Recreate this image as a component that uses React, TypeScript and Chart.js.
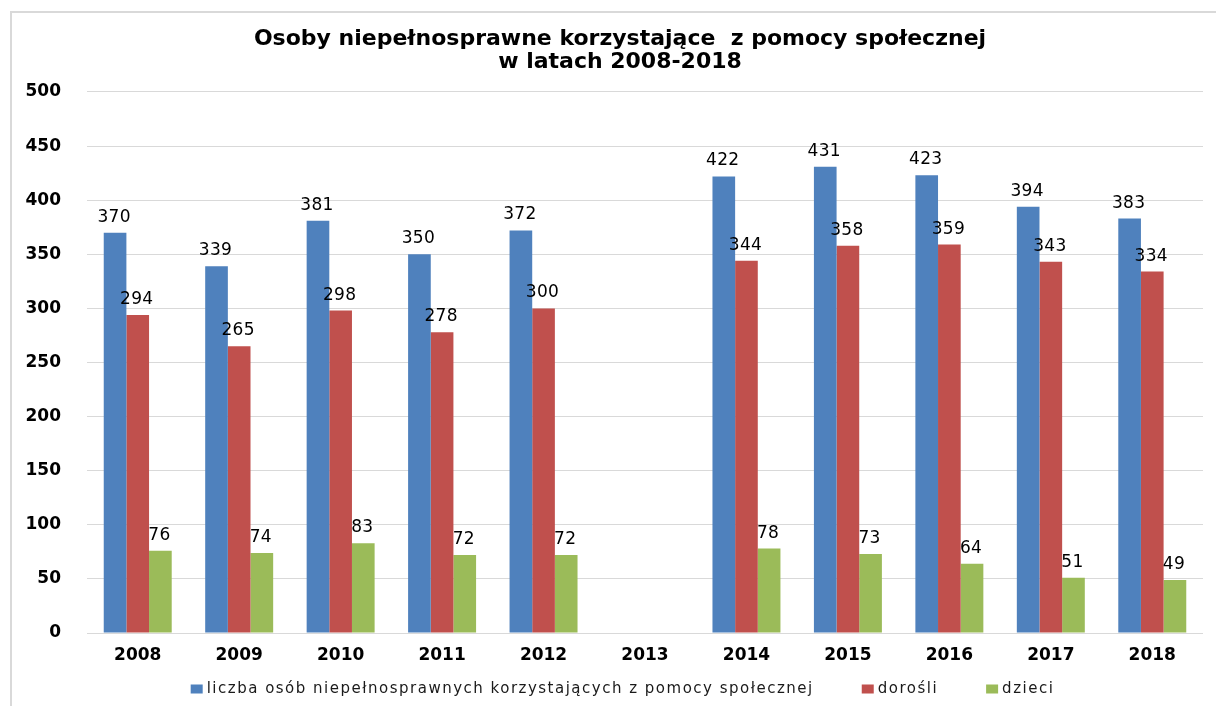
import React, { useEffect, useRef } from "react";
import { Chart, registerables } from "chart.js";

Chart.register(...registerables);

const categories = ["2008", "2009", "2010", "2011", "2012", "2013", "2014", "2015", "2016", "2017", "2018"];
const totalValues: (number | null)[] = [370, 339, 381, 350, 372, null, 422, 431, 423, 394, 383];
const adultValues: (number | null)[] = [294, 265, 298, 278, 300, null, 344, 358, 359, 343, 334];
const childValues: (number | null)[] = [76, 74, 83, 72, 72, null, 78, 73, 64, 51, 49];
const seriesLabels = [
  "liczba osób niepełnosprawnych korzystających z pomocy społecznej",
  "dorośli",
  "dzieci",
];
const titleLines = ["Osoby niepełnosprawne korzystające  z pomocy społecznej", "w latach 2008-2018"];
const yMin = 0;
const yMax = 500;
const yStep = 50;

const COLORS = ["#4F81BD", "#C0504D", "#9BBB59"];

const framePlugin = {
  id: "frame",
  afterLayout(chart: any) {
    // let the y tick labels extend left of the (narrow) axis box without clipping
    const ys = chart.scales.y;
    if (ys) ys.left = 12;
  },
  beforeDraw(chart: any) {
    const ctx = chart.ctx;
    ctx.save();
    ctx.fillStyle = "#FFFFFF";
    ctx.fillRect(0, 0, chart.width, chart.height);
    ctx.fillStyle = "#D9D9D9";
    ctx.fillRect(10, 11, 2, chart.height - 11);
    ctx.fillRect(10, 11, chart.width - 10, 2);
    ctx.restore();
  },
};

const valueLabelPlugin = {
  id: "valueLabels",
  afterDatasetsDraw(chart: any) {
    const ctx = chart.ctx;
    ctx.save();
    ctx.font = "17px 'DejaVu Sans'";
    (ctx as any).letterSpacing = "0.3px";
    ctx.fillStyle = "#000000";
    ctx.textAlign = "center";
    ctx.textBaseline = "alphabetic";
    chart.data.datasets.forEach((ds: any, di: number) => {
      const meta = chart.getDatasetMeta(di);
      meta.data.forEach((el: any, i: number) => {
        const v = ds.data[i];
        if (v === null || v === undefined) return;
        ctx.fillText(String(v), el.x - 1, el.y - 11);
      });
    });
    ctx.restore();
  },
};

const legendPlugin = {
  id: "bottomLegend",
  afterDraw(chart: any) {
    const ctx = chart.ctx;
    ctx.save();
    ctx.font = "15px 'DejaVu Sans'";
    (ctx as any).letterSpacing = "1.5px";
    ctx.textBaseline = "middle";
    ctx.textAlign = "left";
    const boxW = 12;
    const boxH = 9;
    const gapBoxText = 4;
    const gapItems = 48;
    const items = chart.data.datasets.map((ds: any) => ({
      text: ds.label,
      color: ds.backgroundColor,
      w: ctx.measureText(ds.label).width,
    }));
    let total = 0;
    items.forEach((it: any, i: number) => {
      total += boxW + gapBoxText + it.w + (i < items.length - 1 ? gapItems : 0);
    });
    const cx = (chart.width + 29) / 2;
    let x = cx - total / 2;
    const y = 689;
    items.forEach((it: any) => {
      ctx.fillStyle = it.color;
      ctx.fillRect(x, y - boxH / 2, boxW, boxH);
      x += boxW + gapBoxText;
      ctx.fillStyle = "#1a1a1a";
      ctx.fillText(it.text, x, y);
      x += it.w + gapItems;
    });
    ctx.restore();
  },
};

export default function App() {
  const canvasRef = useRef<HTMLCanvasElement | null>(null);

  useEffect(() => {
    if (!canvasRef.current) return;
    const tickFont = { family: "'DejaVu Sans'", size: 17, weight: "bold" as const };
    const chart = new Chart(canvasRef.current, {
      type: "bar",
      data: {
        labels: categories,
        datasets: [
          { label: seriesLabels[0], data: totalValues, backgroundColor: COLORS[0] },
          { label: seriesLabels[1], data: adultValues, backgroundColor: COLORS[1] },
          { label: seriesLabels[2], data: childValues, backgroundColor: COLORS[2] },
        ],
      },
      options: {
        responsive: false,
        animation: false,
        devicePixelRatio: 1,
        layout: { padding: { left: 37, right: 13, top: 0, bottom: 33 } },
        datasets: {
          bar: { categoryPercentage: 0.67, barPercentage: 1.0 },
        },
        plugins: {
          legend: { display: false },
          tooltip: { enabled: false },
          title: {
            display: true,
            text: titleLines,
            color: "#000000",
            font: { family: "'DejaVu Sans'", size: 22, weight: "bold", lineHeight: 1.045 },
            padding: { top: 28, bottom: 18 },
          },
        },
        scales: {
          x: {
            grid: { display: false, drawTicks: false },
            border: { display: false },
            ticks: { color: "#000000", font: tickFont, padding: 12, maxRotation: 0, autoSkip: false },
            afterFit: (scale: any) => {
              scale.height = 40;
            },
          },
          y: {
            min: yMin,
            max: yMax,
            grid: { color: "#D9D9D9", lineWidth: 1, drawTicks: false },
            border: { display: false },
            ticks: { stepSize: yStep, color: "#000000", font: tickFont, padding: 26 },
            afterFit: (scale: any) => {
              scale.width = 50;
            },
          },
        },
      },
      plugins: [framePlugin, valueLabelPlugin, legendPlugin],
    });
    return () => chart.destroy();
  }, []);

  return (
    <div style={{ position: "fixed", left: 0, top: 0, width: 1216, height: 706, background: "#fff" }}>
      <canvas ref={canvasRef} width={1216} height={706} style={{ display: "block", width: 1216, height: 706 }} />
    </div>
  );
}
